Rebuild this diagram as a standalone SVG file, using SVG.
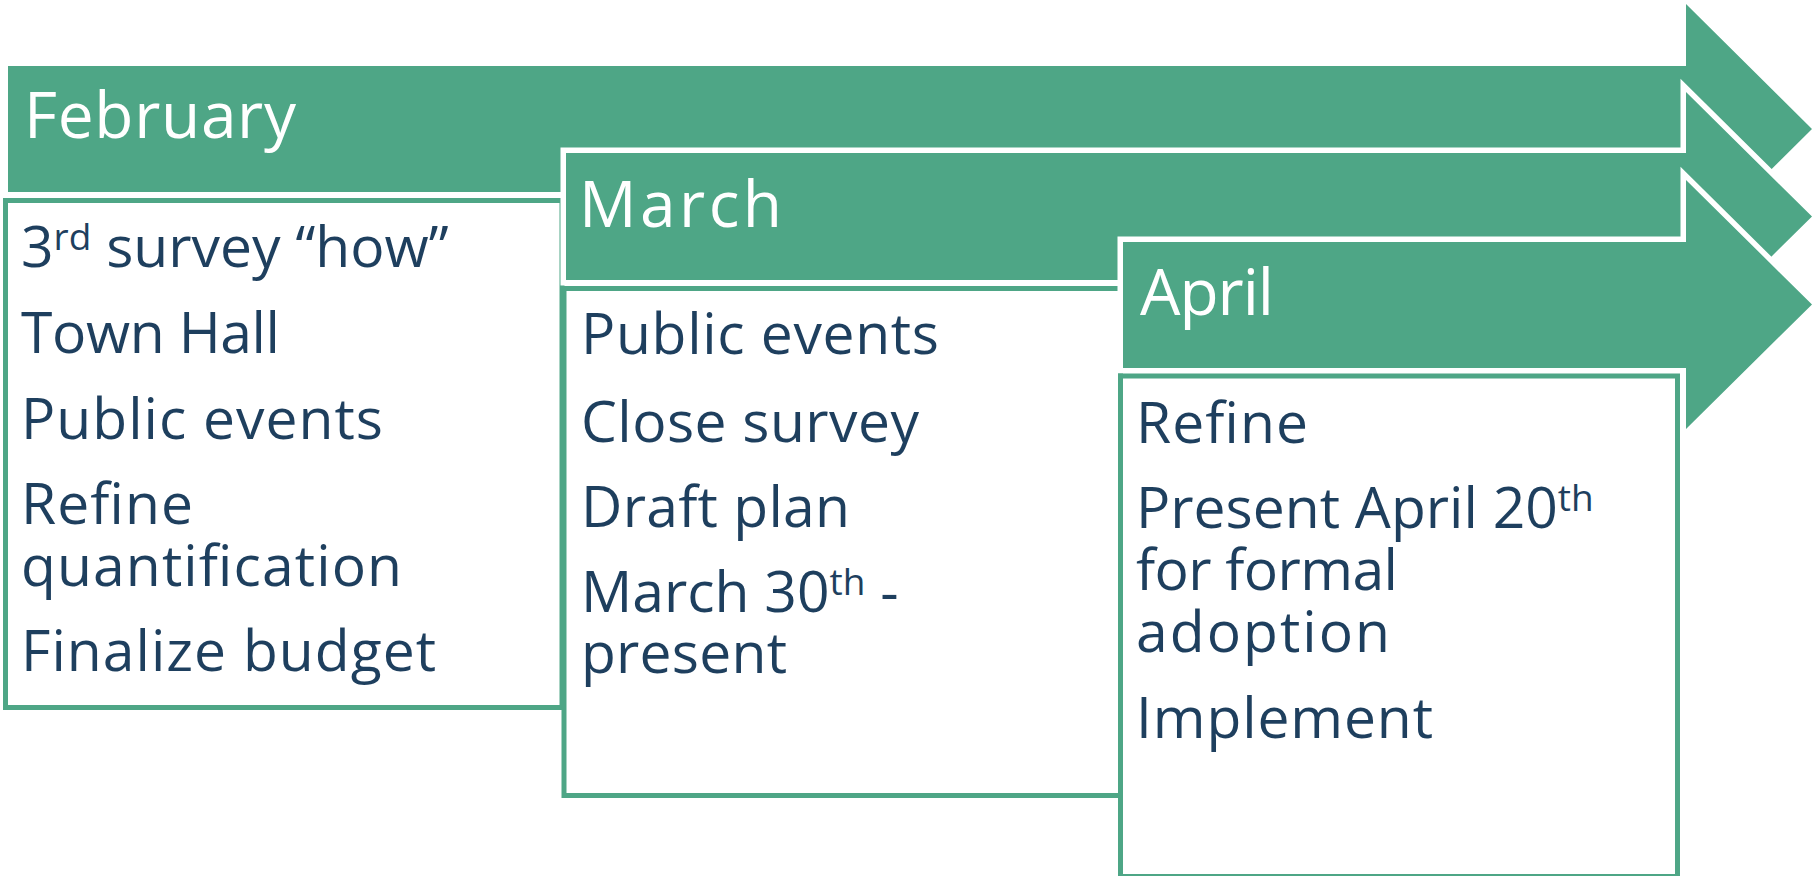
<svg xmlns="http://www.w3.org/2000/svg" width="1812" height="876" viewBox="0 0 1812 876">
<style>
.arrow{fill:#4EA686;stroke:#FFFFFF;stroke-width:11;stroke-linejoin:miter;paint-order:stroke}
.box{fill:#FFFFFF;stroke:#4EA686;stroke-width:5}
.hdr{font-family:"Open Sans","Liberation Sans",sans-serif;font-size:64px;fill:#FFFFFF}
.body{font-family:"Open Sans","Liberation Sans",sans-serif;font-size:57px;fill:#1E3F5E}
.sup{font-size:37px}
</style>
<rect x="0" y="0" width="1812" height="876" fill="#FFFFFF"/>
<g id="february">
<path class="arrow" d="M8 66 H1686 V4 L1812 129 L1686 254 V192 H8 Z"/>
<rect class="box" x="5.5" y="200.5" width="556.5" height="507"/>
<text class="hdr" x="24" y="138" textLength="272" lengthAdjust="spacing">February</text>
<text class="body" x="21" y="267">3<tspan class="sup" dy="-17">rd</tspan><tspan dy="17"> survey “how”</tspan></text>
<text class="body" x="21" y="353" textLength="259" lengthAdjust="spacing">Town Hall</text>
<text class="body" x="21" y="439" textLength="362" lengthAdjust="spacing">Public events</text>
<text class="body" x="21" y="524" textLength="172" lengthAdjust="spacing">Refine</text>
<text class="body" x="21" y="586" textLength="381" lengthAdjust="spacing">quantification</text>
<text class="body" x="21" y="671" textLength="415" lengthAdjust="spacing">Finalize budget</text>
</g>
<g id="march">
<path class="arrow" d="M566 153 H1686 V92 L1812 216.5 L1686 341 V280 H566 Z"/>
<rect class="box" x="564" y="288.5" width="556.5" height="507"/>
<text class="hdr" x="579" y="227" textLength="203" lengthAdjust="spacing">March</text>
<text class="body" x="581" y="354" textLength="358" lengthAdjust="spacing">Public events</text>
<text class="body" x="581" y="442" textLength="338" lengthAdjust="spacing">Close survey</text>
<text class="body" x="581" y="527" textLength="269" lengthAdjust="spacing">Draft plan</text>
<text class="body" x="581" y="612">March 30<tspan class="sup" dy="-17">th</tspan><tspan dy="17"> -</tspan></text>
<text class="body" x="581" y="673" textLength="206" lengthAdjust="spacing">present</text>
</g>
<g id="april">
<path class="arrow" d="M1123 242 H1686 V180 L1812 304.5 L1686 429 V368 H1123 Z"/>
<rect class="box" x="1120.5" y="376" width="557" height="500.5"/>
<text class="hdr" x="1140" y="315" textLength="134" lengthAdjust="spacing">April</text>
<text class="body" x="1136" y="443" textLength="172" lengthAdjust="spacing">Refine</text>
<text class="body" x="1136" y="528">Present April 20<tspan class="sup" dy="-17">th</tspan></text>
<text class="body" x="1136" y="590" textLength="262" lengthAdjust="spacing">for formal</text>
<text class="body" x="1136" y="652" textLength="254" lengthAdjust="spacing">adoption</text>
<text class="body" x="1136" y="738" textLength="297" lengthAdjust="spacing">Implement</text>
</g>
<g id="connectors"/>
</svg>
